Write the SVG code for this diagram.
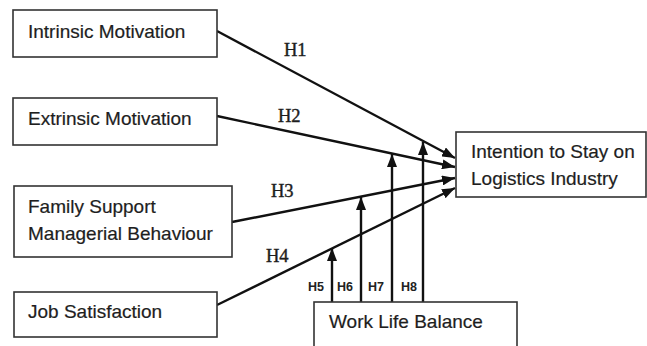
<svg xmlns="http://www.w3.org/2000/svg" width="647" height="346" viewBox="0 0 647 346">
<style>
.box{fill:#fff;stroke:#333;stroke-width:1.6}
.lbl{font-family:"Liberation Sans",Arial,sans-serif;font-size:19px;fill:#1e1e1e;stroke:#1e1e1e;stroke-width:0.2}
.h{font-family:"Liberation Serif","Times New Roman",serif;font-size:18.5px;fill:#1e1e1e;stroke:#1e1e1e;stroke-width:0.4}
.hs{font-family:"Liberation Sans",Arial,sans-serif;font-size:12.5px;font-weight:bold;fill:#222;text-anchor:middle}
.ln{stroke:#111;stroke-width:2.4;fill:none;marker-end:url(#arr)}
</style>
<defs>
<marker id="arr" markerUnits="userSpaceOnUse" markerWidth="13" markerHeight="10" refX="13" refY="5" orient="auto">
<path d="M0,0 L13,5 L0,10 z" fill="#111"/>
</marker>
</defs>
<rect width="647" height="346" fill="#fff"/>
<g id="connectors">
<line class="ln" x1="217" y1="31" x2="455" y2="158"/>
<line class="ln" x1="217" y1="116" x2="455" y2="167"/>
<line class="ln" x1="232" y1="222" x2="455" y2="178"/>
<line class="ln" x1="217" y1="305" x2="455" y2="188"/>
<line class="ln" x1="332" y1="302" x2="332" y2="248"/>
<line class="ln" x1="361" y1="302" x2="361" y2="197"/>
<line class="ln" x1="392" y1="302" x2="392" y2="154"/>
<line class="ln" x1="423" y1="302" x2="423" y2="142"/>
<text class="h" x="284" y="56">H1</text>
<text class="h" x="278" y="122">H2</text>
<text class="h" x="271" y="197">H3</text>
<text class="h" x="266" y="262">H4</text>
<text class="hs" x="316" y="291">H5</text>
<text class="hs" x="345" y="291">H6</text>
<text class="hs" x="376" y="291">H7</text>
<text class="hs" x="409" y="291">H8</text>
</g>
<g id="intrinsic">
<rect class="box" x="13" y="10" width="204" height="47"/>
<text class="lbl" x="28" y="38">Intrinsic Motivation</text>
</g>
<g id="extrinsic">
<rect class="box" x="13" y="98" width="204" height="47"/>
<text class="lbl" x="28" y="125">Extrinsic Motivation</text>
</g>
<g id="family">
<rect class="box" x="14" y="186" width="218" height="71"/>
<text class="lbl" x="28" y="213">Family Support</text>
<text class="lbl" x="28" y="240">Managerial Behaviour</text>
</g>
<g id="job">
<rect class="box" x="14" y="292" width="203" height="45"/>
<text class="lbl" x="28" y="318">Job Satisfaction</text>
</g>
<g id="intention">
<rect class="box" x="456" y="132" width="190" height="65"/>
<text class="lbl" x="471" y="158">Intention to Stay on</text>
<text class="lbl" x="471" y="185">Logistics Industry</text>
</g>
<g id="wlb">
<rect class="box" x="314" y="302" width="203" height="60"/>
<text class="lbl" x="329" y="328">Work Life Balance</text>
</g>
</svg>
